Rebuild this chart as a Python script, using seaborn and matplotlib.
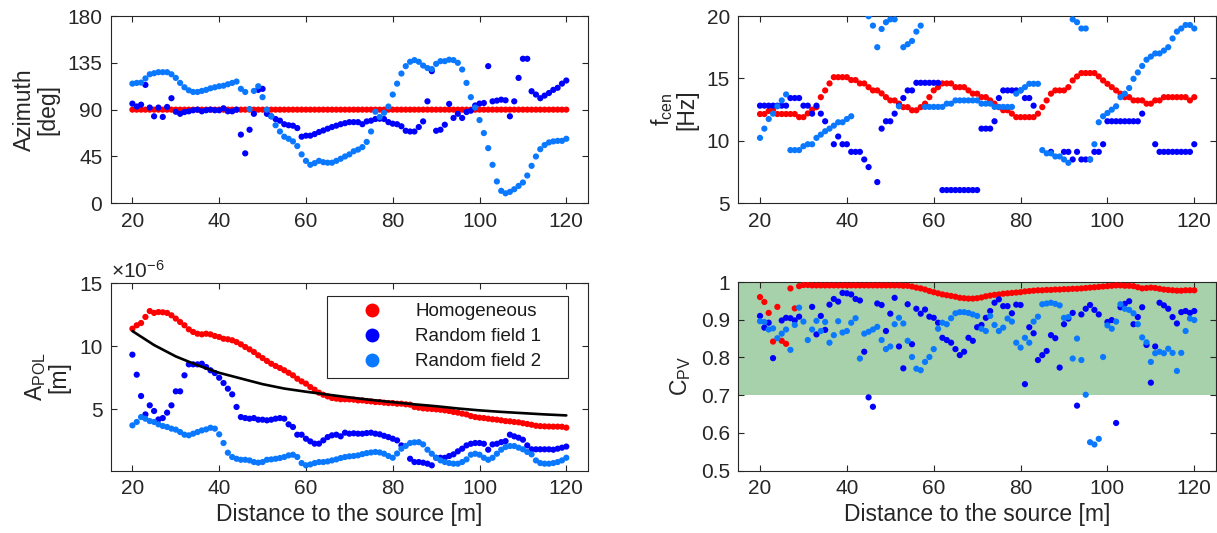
import numpy as np
import pandas as pd
import matplotlib
matplotlib.use("Agg")
import matplotlib.pyplot as plt
from matplotlib.lines import Line2D
import seaborn as sns

nan = np.nan

# ---------------- data ----------------
distance = list(range(20, 121))

series_names = ["Homogeneous", "Random field 1", "Random field 2"]
series_colors = ["#ff0000", "#0000ff", "#0a78ff"]

az_homog = [90.0, 90.0, 90.0, 90.0, 90.0, 90.0, 90.0, 90.0, 90.0, 90.0,
            90.0, 90.0, 90.0, 90.0, 90.0, 90.0, 90.0, 90.0, 90.0, 90.0,
            90.0, 90.0, 90.0, 90.0, 90.0, 90.0, 90.0, 90.0, 90.0, 90.0,
            90.0, 90.0, 90.0, 90.0, 90.0, 90.0, 90.0, 90.0, 90.0, 90.0,
            90.0, 90.0, 90.0, 90.0, 90.0, 90.0, 90.0, 90.0, 90.0, 90.0,
            90.0, 90.0, 90.0, 90.0, 90.0, 90.0, 90.0, 90.0, 90.0, 90.0,
            90.0, 90.0, 90.0, 90.0, 90.0, 90.0, 90.0, 90.0, 90.0, 90.0,
            90.0, 90.0, 90.0, 90.0, 90.0, 90.0, 90.0, 90.0, 90.0, 90.0,
            90.0, 90.0, 90.0, 90.0, 90.0, 90.0, 90.0, 90.0, 90.0, 90.0,
            90.0, 90.0, 90.0, 90.0, 90.0, 90.0, 90.0, 90.0, 90.0, 90.0,
            90.0]
az_rf1 = [95.8, 93, 94.8, 113.8, 92, 83.6, 92, 83, 92.6, 101,
          88, 86, 87.7, 88.4, 89.4, 90, 88.4, 89.4, 90, 89.4,
          89.4, 91.3, 88.4, 88.4, 90, 66, 48, 70.7, 86, 109,
          110, 86, 83.6, 81, 79.4, 76, 75, 74.6, 72.3, 64,
          65, 65, 66.5, 68.5, 70, 71.7, 73.3, 74.6, 76, 77,
          78, 78, 78, 76, 78.7, 79.4, 81, 81.3, 81, 78,
          76.5, 76, 74, 69.7, 69, 69, 73.3, 78.7, 98, 127,
          69.7, 70.7, 75.5, 95.5, 82, 86, 82, 87.7, 89, 94,
          95.8, 96.4, 131.8, 98, 98.7, 99.6, 99, 83.6, 98, 120.5,
          138.9, 138.9, 107.7, 104.5, 101, 103.5, 106, 109, 111, 115,
          118]
az_rf2 = [115, 115.7, 116, 120, 124, 125, 126, 126, 126, 124,
          120.5, 115.7, 111.5, 108.6, 107, 107, 108, 109, 110.5, 111.5,
          112.5, 113, 114.4, 115.7, 117, 110, 107, 90.6, 108, 112.5,
          102, 90, 83.6, 75, 69, 64, 62, 59.5, 55, 47,
          40.8, 37, 38.6, 40.8, 39.5, 39, 39, 40.8, 42.8, 45,
          47, 50, 51.6, 54, 59, 69, 88, 83, 87, 93,
          104.5, 115, 124.7, 131.8, 136, 137.6, 136, 132.4, 130, 129,
          134, 136.6, 136.6, 138, 137.6, 135, 128.6, 115.7, 102, 92,
          80, 67.5, 53, 37, 21, 12, 9.6, 11, 13.5, 16.7,
          20, 26.7, 36, 45, 52, 56, 58.5, 59.5, 60, 60,
          62]

fc_homog = [12.15, 12.15, 12.4, 12.5, 12.15, 12.15, 12.15, 12.15, 12.15, 11.9,
            11.9, 12.2, 12.5, 12.7, 13.5, 14.04, 14.6, 15.1, 15.1, 15.1,
            15.1, 14.87, 14.87, 14.6, 14.6, 14.3, 14.04, 14.04, 13.8, 13.5,
            13.24, 13.24, 12.98, 12.7, 12.7, 12.45, 12.45, 12.7, 12.98, 13.5,
            14.04, 14.3, 14.6, 14.6, 14.6, 14.3, 14.3, 14.3, 14.04, 13.78,
            13.78, 13.5, 13.5, 13.24, 12.98, 12.7, 12.45, 12.45, 12.18, 11.9,
            11.9, 11.9, 11.9, 11.9, 12.18, 12.7, 13.24, 13.78, 14.04, 14.04,
            14.04, 14.3, 14.84, 15.16, 15.43, 15.43, 15.43, 15.43, 15.16, 14.84,
            14.57, 14.3, 14.04, 13.78, 13.5, 13.5, 13.24, 13.24, 13.24, 12.98,
            12.98, 13.24, 13.24, 13.5, 13.5, 13.5, 13.5, 13.5, 13.5, 13.24,
            13.5]
fc_rf1 = [12.82, 12.82, 12.82, 12.82, 12.82, 12.82, 12.82, 13.43, 13.43, 13.43,
          12.82, 12.82, 12.18, 12.82, 12.18, 11.57, nan, 9.73, 10.35, 9.73,
          9.73, 9.12, 9.12, 9.12, 8.51, 7.9, nan, 6.7, 10.98, 11.57,
          11.57, 12.18, 12.82, 13.43, 14.04, 14.04, 14.65, 14.65, 14.65, 14.65,
          14.65, 14.65, 6.06, 6.06, 6.06, 6.06, 6.06, 6.06, 6.06, 6.06,
          6.06, 10.98, 10.98, 10.98, 11.57, 13.43, 14.04, 14.04, 14.04, 14.04,
          14.04, 13.43, 13.43, 12.82, nan, nan, nan, 9.12, nan, nan,
          9.12, 9.12, 8.51, 9.12, 8.51, 8.51, 8.51, 9.12, 9.12, 9.73,
          11.57, 11.57, 11.57, 11.57, 11.57, 11.57, 11.57, 11.57, 12.18, nan,
          nan, 9.73, 9.12, 9.12, 9.12, 9.12, 9.12, 9.12, 9.12, 9.12,
          9.73]
fc_rf2 = [10.24, 10.98, 11.75, 12.18, 12.77, 13.24, 13.72, 9.26, 9.26, 9.26,
          9.57, 9.73, 9.73, 10.24, 10.5, 10.77, 10.98, 11.22, 11.49, 11.49,
          11.75, 11.97, nan, nan, nan, 19.98, 19.23, 17.5, 18.96, 19.5,
          19.73, 19.73, 12.77, 17.5, 17.74, 18.0, 18.75, 19.23, 12.72, 12.72,
          12.72, 12.72, 12.72, 12.98, 12.98, 13.24, 13.24, 13.24, 13.24, 13.24,
          13.24, 12.98, 12.98, 12.98, 12.72, 12.72, 12.72, 12.72, 12.72, 13.78,
          14.04, 14.3, 14.57, 14.57, 14.57, 9.26, 9.0, 9.0, 8.75, 8.75,
          8.51, 8.24, 19.73, 19.5, 19.0, 19.0, 8.51, 9.73, 11.49, 11.97,
          12.23, 12.5, 12.77, 13.5, 13.78, 14.23, 14.97, 15.48, 16.0, 16.5,
          16.75, 17.0, 17.0, 17.23, 17.5, 18.2, 18.75, 19.0, 19.28, 19.28,
          19.0]

# A_POL in units of 1e-6 m
ap_homog = [11.4, 11.67, 11.85, 12.33, 12.8, 12.65, 12.72, 12.7, 12.65, 12.46,
            12.2, 11.93, 11.67, 11.35, 11.14, 11.0, 10.95, 11.0, 10.95, 10.82,
            10.74, 10.6, 10.56, 10.48, 10.34, 10.16, 9.95, 9.76, 9.55, 9.29,
            9.07, 8.84, 8.62, 8.44, 8.28, 8.1, 7.9, 7.7, 7.43, 7.22,
            7.04, 6.77, 6.56, 6.32, 6.16, 6.03, 5.9, 5.85, 5.8, 5.8,
            5.79, 5.77, 5.71, 5.71, 5.66, 5.63, 5.58, 5.58, 5.53, 5.5,
            5.5, 5.45, 5.45, 5.4, 5.37, 5.19, 5.13, 5.08, 5.05, 5.03,
            5.0, 4.97, 4.92, 4.87, 4.79, 4.74, 4.66, 4.6, 4.47, 4.39,
            4.34, 4.31, 4.26, 4.21, 4.18, 4.13, 4.07, 4.05, 4.0, 3.97,
            3.9, 3.84, 3.78, 3.7, 3.67, 3.65, 3.64, 3.63, 3.63, 3.62,
            3.55]
ap_rf1 = [9.34, 7.75, 6.06, 4.6, 5.32, 4.87, 4.2, 4.31, 4.74, 5.32,
          6.43, 6.43, 7.7, 8.57, 8.57, 8.57, 8.62, 8.36, 8.1, 7.88,
          7.51, 7.09, 6.64, 6.19, 5.19, 4.39, 4.31, 4.26, 4.31, 4.18,
          4.18, 4.13, 4.18, 4.26, 4.31, 4.26, 3.81, 3.6, 2.99, 2.99,
          2.67, 2.46, 2.28, 2.28, 2.54, 2.8, 2.94, 2.99, 2.86, 3.15,
          3.07, 3.1, 3.07, 3.07, 3.12, 3.15, 3.07, 3.02, 2.9, 2.8,
          2.67, 2.54, 2.14, nan, 1.08, 0.82, 0.82, 0.77, 0.69, 0.56,
          1.16, 1.16, 1.16, 1.3, 1.43, 1.67, 1.88, 2.14, 2.27, 2.33,
          2.33, 2.27, 1.8, 2.22, 2.27, 2.4, 2.48, 2.99, 2.86, 2.75,
          2.59, 2.14, 1.83, 1.83, 1.83, 1.83, 1.83, 1.8, 1.88, 1.96,
          2.05]
ap_rf2 = [3.73, 4.0, 4.39, 4.26, 4.07, 4.0, 3.81, 3.68, 3.6, 3.47,
          3.39, 3.2, 2.99, 2.94, 3.07, 3.2, 3.33, 3.41, 3.54, 3.47,
          3.02, 2.33, 1.56, 1.22, 1.08, 1.0, 1.0, 0.95, 0.82, 0.77,
          0.82, 1.0, 1.03, 1.08, 1.14, 1.22, 1.35, 1.4, 1.22, 0.74,
          0.56, 0.63, 0.74, 0.82, 0.82, 0.87, 0.95, 1.03, 1.14, 1.22,
          1.27, 1.3, 1.35, 1.45, 1.53, 1.58, 1.62, 1.58, 1.48, 1.3,
          1.16, 1.5, 1.88, 2.1, 2.33, 2.38, 2.4, 2.22, 1.8, 1.48,
          1.16, 0.95, 0.82, 0.74, 0.69, 0.69, 0.82, 1.03, 1.4, 1.48,
          1.4, 1.16, 1.0, 1.16, 1.48, 1.8, 2.01, 2.09, 2.09, 1.96,
          1.83, 1.62, 1.43, 0.95, 0.74, 0.69, 0.69, 0.74, 0.82, 0.95,
          1.16]

theory_dist = [20, 25, 30, 35, 40, 45, 50, 55, 60, 65, 70,
               75, 80, 85, 90, 95, 100, 105, 110, 115, 120]
theory_apol = [11.21, 10.1, 9.2, 8.5, 7.9, 7.45, 7.0, 6.65, 6.4, 6.17, 5.95,
               5.75, 5.57, 5.4, 5.25, 5.07, 4.92, 4.8, 4.7, 4.6, 4.52]

cpv_homog = [0.96, 0.947, 0.918, 0.842, 0.934, 0.844, 0.836, 0.983, 0.93, 0.989,
             0.992, 0.992, 0.991, 0.991, 0.991, 0.991, 0.991, 0.991, 0.991, 0.991,
             0.991, 0.991, 0.991, 0.991, 0.991, 0.991, 0.991, 0.991, 0.991, 0.991,
             0.991, 0.991, 0.991, 0.99, 0.99, 0.988, 0.985, 0.983, 0.98, 0.976,
             0.973, 0.97, 0.967, 0.965, 0.963, 0.961, 0.958, 0.957, 0.956, 0.956,
             0.957, 0.959, 0.962, 0.964, 0.966, 0.967, 0.969, 0.970, 0.971, 0.972,
             0.973, 0.975, 0.976, 0.977, 0.978, 0.978, 0.979, 0.979, 0.98, 0.98,
             0.981, 0.981, 0.982, 0.982, 0.983, 0.984, 0.985, 0.986, 0.987, 0.988,
             0.989, 0.99, 0.991, 0.991, 0.99, 0.99, 0.989, 0.986, 0.983, 0.984,
             0.985, 0.984, 0.982, 0.98, 0.979, 0.978, 0.977, 0.977, 0.978, 0.978,
             0.978]
cpv_rf1 = [0.91, 0.879, 0.892, 0.798, nan, 0.898, 0.905, 0.904, 0.898, 0.908,
           nan, nan, 0.934, 0.861, 0.91, 0.873, 0.94, 0.955, 0.948, 0.971,
           0.97, 0.967, 0.955, 0.951, 0.815, 0.694, 0.669, 0.943, 0.939, 0.87,
           0.916, 0.958, 0.829, 0.771, 0.941, 0.835, 0.929, 0.916, 0.927, 0.908,
           0.905, 0.892, 0.852, 0.846, 0.839, 0.822, 0.806, 0.815, 0.852, 0.844,
           0.88, 0.886, 0.905, 0.923, 0.945, 0.954, 0.936, 0.936, 0.917, 0.94,
           0.939, 0.729, 0.88, 0.864, 0.793, 0.806, 0.817, 0.859, 0.851, 0.773,
           0.888, 0.903, 0.918, 0.672, 0.914, 0.929, 0.939, 0.926, 0.914, nan,
           0.894, 0.899, 0.626, 0.933, 0.942, 0.949, 0.888, 0.907, 0.933, 0.833,
           0.733, 0.829, 0.945, 0.938, 0.929, 0.907, 0.89, 0.92, 0.923, 0.918,
           0.923]
cpv_rf2 = [0.896, 0.894, 0.874, 0.877, 0.851, 0.863, 0.874, 0.82, 0.886, 0.932,
           0.895, 0.846, 0.874, 0.897, 0.87, 0.894, 0.839, 0.859, 0.896, 0.866,
           0.87, 0.892, 0.904, 0.797, 0.863, 0.868, 0.874, 0.881, 0.846, 0.822,
           0.829, 0.888, 0.905, 0.89, 0.844, 0.801, 0.77, 0.766, 0.788, 0.801,
           0.822, 0.876, 0.892, 0.888, 0.904, 0.917, 0.92, 0.92, 0.918, 0.914,
           0.91, 0.876, 0.87, 0.91, 0.886, 0.87, 0.879, 0.903, 0.895, 0.839,
           0.826, 0.852, 0.839, 0.895, 0.908, 0.941, 0.943, 0.945, 0.942, 0.938,
           0.905, 0.907, 0.797, 0.85, 0.793, 0.701, 0.575, 0.569, 0.584, 0.801,
           0.885, 0.876, 0.895, 0.941, 0.929, 0.926, 0.917, 0.888, 0.853, 0.84,
           0.788, 0.811, 0.815, 0.811, 0.823, 0.812, 0.764, 0.812, 0.87, 0.903,
           0.899]

x_ticks = [20, 40, 60, 80, 100, 120]
az_ticks = [0, 45, 90, 135, 180]
fc_ticks = [5, 10, 15, 20]
ap_ticks = [5, 10, 15]
cpv_ticks = [0.5, 0.6, 0.7, 0.8, 0.9, 1.0]
cpv_ticklabels = ["0.5", "0.6", "0.7", "0.8", "0.9", "1"]
cpv_band = [0.7, 1.0]

# ---------------- style ----------------
sns.set_theme(style="ticks")
plt.rcParams["font.family"] = ["Liberation Sans", "DejaVu Sans"]
plt.rcParams["mathtext.fontset"] = "custom"
plt.rcParams["mathtext.rm"] = "Liberation Sans"
plt.rcParams["mathtext.it"] = "Liberation Sans:italic"
plt.rcParams["mathtext.bf"] = "Liberation Sans:bold"

DARK = "#262626"
TICK_FS = 15
LABEL_FS = 16.5
DOT = 20

fig = plt.figure(figsize=(12.17, 5.33), dpi=100)
W, H = 1217.0, 533.0


def box(l, t, r, b):
    return [l / W, 1 - b / H, (r - l) / W, (b - t) / H]


ax_az = fig.add_axes(box(110.7, 16.0, 588.0, 203.3))
ax_fc = fig.add_axes(box(738.3, 16.0, 1216.0, 203.3))
ax_ap = fig.add_axes(box(110.7, 283.3, 588.0, 470.5))
ax_cp = fig.add_axes(box(738.3, 282.0, 1216.0, 470.5))


def scatter_panel(ax, series):
    for vals, name, col in zip(series, series_names, series_colors):
        df = pd.DataFrame({"distance": distance, "value": vals}).dropna()
        sns.scatterplot(data=df, x="distance", y="value", ax=ax, color=col,
                        s=DOT, linewidth=0, edgecolor="none", legend=False,
                        zorder=3)


def style(ax, yticks, ylim, ylabel, xlabel=None):
    ax.set_xlim(15, 125)
    ax.set_xticks(x_ticks)
    ax.set_ylim(*ylim)
    ax.set_yticks(yticks)
    for sp in ax.spines.values():
        sp.set_visible(True)
        sp.set_color(DARK)
        sp.set_linewidth(0.8)
    ax.tick_params(direction="in", top=True, right=True, length=4, width=0.8,
                   colors=DARK, labelsize=TICK_FS, labelcolor=DARK, pad=6)
    ax.set_ylabel(ylabel, fontsize=LABEL_FS, color=DARK, labelpad=6,
                  linespacing=1.0)
    if xlabel:
        ax.set_xlabel(xlabel, fontsize=LABEL_FS, color=DARK, labelpad=4)
    else:
        ax.set_xlabel("")
    ax.set_facecolor("white")


# Azimuth
scatter_panel(ax_az, [az_homog, az_rf1, az_rf2])
style(ax_az, az_ticks, (0, 180), "Azimuth\n[deg]")

# f_cen
scatter_panel(ax_fc, [fc_homog, fc_rf1, fc_rf2])
style(ax_fc, fc_ticks, (5, 20), "f$_{\\mathrm{cen}}$\n[Hz]")

# A_POL
scatter_panel(ax_ap, [ap_homog, ap_rf1, ap_rf2])
sns.lineplot(x=theory_dist, y=theory_apol, ax=ax_ap, color="black",
             linewidth=1.9, zorder=4)
style(ax_ap, ap_ticks, (0.15, 15), "A$_{\\mathrm{POL}}$\n[m]",
      "Distance to the source [m]")
ax_ap.text(0.0, 1.008, r"$\times\mathregular{10}^{\mathregular{-6}}$",
           transform=ax_ap.transAxes, ha="left", va="bottom",
           fontsize=TICK_FS, color=DARK)

handles = [Line2D([], [], linestyle="none", marker="o", markersize=10,
                  markerfacecolor=c, markeredgecolor="none")
           for c in series_colors]
leg = ax_ap.legend(handles, series_names, loc="upper left",
                   bbox_to_anchor=(0.4532, 0.5, 0.504, 0.434), mode="expand",
                   borderaxespad=0, frameon=True, fancybox=False,
                   edgecolor=DARK, framealpha=1, fontsize=13.5,
                   handlelength=4.0, handletextpad=0.3, borderpad=0.4,
                   labelspacing=0.42)
leg.get_frame().set_linewidth(0.8)
for t in leg.get_texts():
    t.set_color("#1a1a1a")

# C_PV
ax_cp.axhspan(cpv_band[0], cpv_band[1], color="#a6d1aa", zorder=0, lw=0)
scatter_panel(ax_cp, [cpv_homog, cpv_rf1, cpv_rf2])
style(ax_cp, cpv_ticks, (0.5, 1.0), "C$_{\\mathrm{PV}}$",
      "Distance to the source [m]")
ax_cp.set_yticklabels(cpv_ticklabels)

fig.savefig("out.png", dpi=100)
